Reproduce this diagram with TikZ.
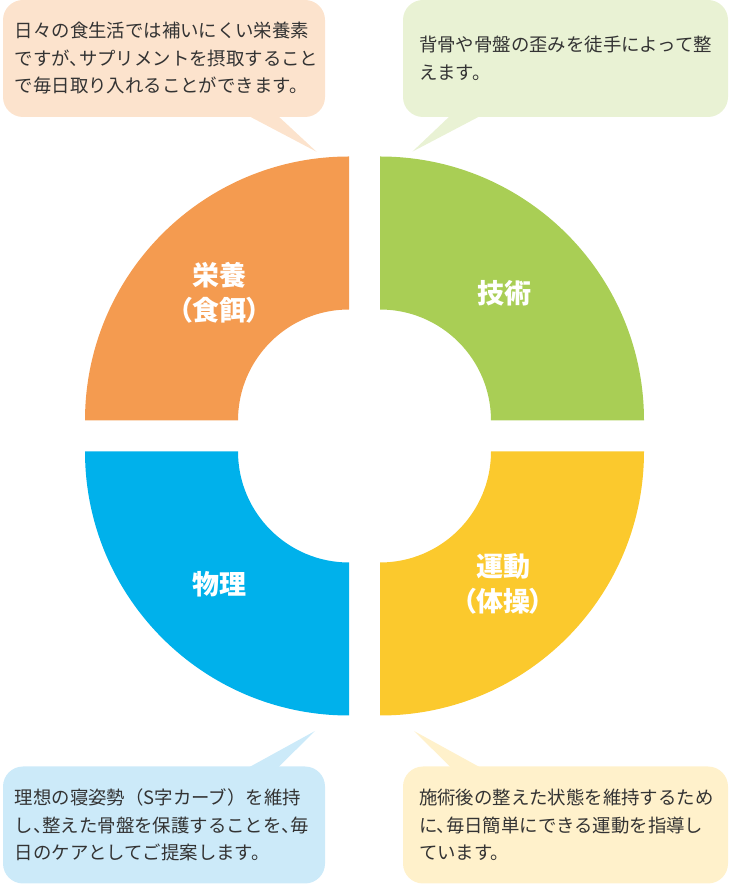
\documentclass[tikz,border=0pt]{standalone}
\usepackage{fontspec}
\setmainfont{Noto Sans CJK JP}
\newfontfamily\labelfont[RawFeature=+palt]{Noto Sans CJK JP}
\newcommand{\tou}{、\kern-.5em}

\definecolor{nutri}{HTML}{F49B50}
\definecolor{nutriLight}{HTML}{FCE3CD}
\definecolor{tech}{HTML}{A9CE55}
\definecolor{techLight}{HTML}{E9F2D4}
\definecolor{phys}{HTML}{00B1EB}
\definecolor{physLight}{HTML}{CCEAF9}
\definecolor{exer}{HTML}{FBC92D}
\definecolor{exerLight}{HTML}{FFF1CB}
\definecolor{txt}{HTML}{333333}

\begin{document}
\begin{tikzpicture}[x=1pt,y=1pt,
  quadlabel/.style={text=white,font=\labelfont\bfseries\fontsize{27}{35}\selectfont,align=center,inner sep=0},
  callout/.style={rounded corners=20pt,minimum height=117pt,align=left,text=txt,inner ysep=0,
    font=\fontsize{18.4}{27.5}\selectfont}]

\useasboundingbox (0,0) rectangle (729,884);

% four quadrants of the ring
\foreach \cx/\cy/\a/\col in {349/463.5/90/nutri,380/463.5/0/tech,349/432.5/180/phys,380/432.5/270/exer}
    \fill [\col,shift={(\cx,\cy)}] (\a:264) arc[start angle=\a,end angle=\a+90,radius=264]
        -- (\a+90:111) arc[start angle=\a+90,end angle=\a,radius=111] -- cycle;

\node (nutriLabel) [quadlabel] at (219.5,591.5) {栄養\\（食餌）};
\node (techLabel) [quadlabel] at (504,591) {技術};
\node (physLabel) [quadlabel] at (219,300) {物理};
\node (exerLabel) [quadlabel] at (503,300) {運動\\（体操）};

% callouts at the top

\node (nutriBox) [callout,fill=nutriLight,minimum width=322pt,text width=298pt,inner xsep=12pt] at (164,825.5) {%
日々の食生活では補いにくい栄養素\\
ですが\tou サプリメントを摂取すること\\
で毎日取り入れることができます。};
\coordinate (nutriTip) at (316.5,732.3);
\fill [nutriLight] ([xshift=-78pt,yshift=2pt]nutriBox.south east) -- (nutriTip) -- ([xshift=-48pt,yshift=2pt]nutriBox.south east) -- cycle;

\node (techBox) [callout,fill=techLight,minimum width=325pt,text width=293pt,inner xsep=16pt] at (565.5,825.5) {%
背骨や骨盤の歪みを徒手によって整\\
えます。};
\coordinate (techTip) at (412.3,732.3);
\fill [techLight] ([xshift=48pt,yshift=2pt]techBox.south west) -- (techTip) -- ([xshift=79pt,yshift=2pt]techBox.south west) -- cycle;

% callouts at the bottom

\node (physBox) [callout,fill=physLight,minimum width=322pt,text width=298pt,inner xsep=12pt] at (164,59) {%
理想の寝姿勢（S字カーブ）を維持\\
し\tou 整えた骨盤を保護することを\tou 毎\\
日のケアとしてご提案します。};
\coordinate (physTip) at (315,153);
\fill [physLight] ([xshift=-78pt,yshift=-2pt]physBox.north east) -- (physTip) -- ([xshift=-48pt,yshift=-2pt]physBox.north east) -- cycle;

\node (exerBox) [callout,fill=exerLight,minimum width=325pt,text width=293pt,inner xsep=16pt] at (565.5,59) {%
施術後の整えた状態を維持するため\\
に\tou 毎日簡単にできる運動を指導し\\
ています。};
\coordinate (exerTip) at (414,153);
\fill [exerLight] ([xshift=49pt,yshift=-2pt]exerBox.north west) -- (exerTip) -- ([xshift=79pt,yshift=-2pt]exerBox.north west) -- cycle;

\end{tikzpicture}
\end{document}
